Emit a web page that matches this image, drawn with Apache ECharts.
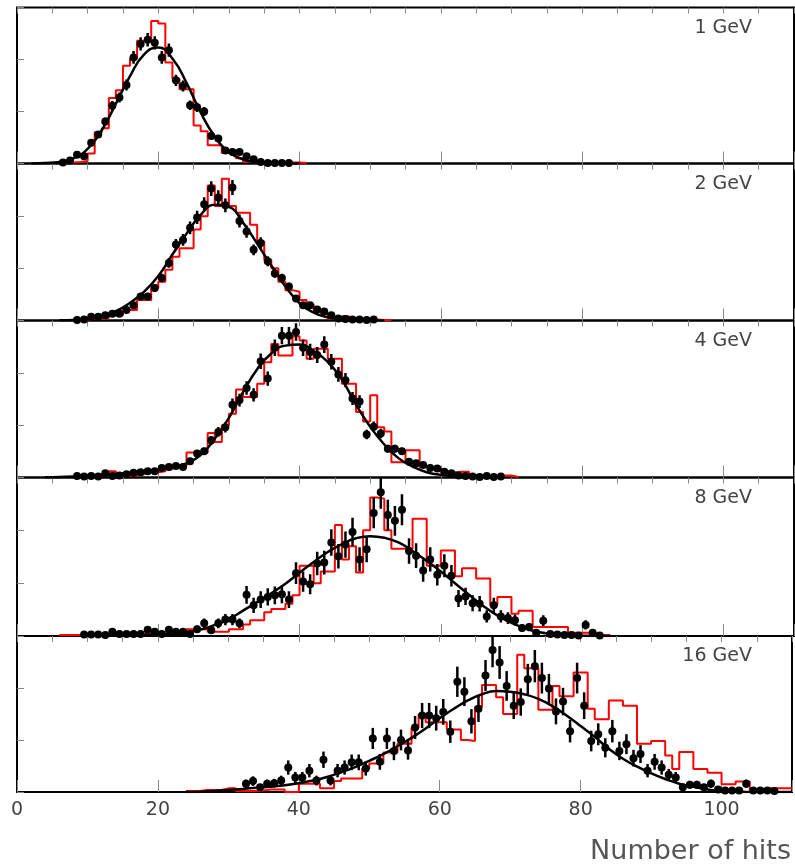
<!DOCTYPE html>
<html>
<head>
<meta charset="utf-8">
<script src="https://cdn.jsdelivr.net/npm/echarts@6/dist/echarts.min.js"></script>
<style>
  html, body { margin: 0; padding: 0; background: #fff; }
  #chart { width: 795px; height: 867px; }
</style>
</head>
<body>
<div id="chart"></div>
<script>
// panel labels, top to bottom
const energies = ["1 GeV", "2 GeV", "4 GeV", "8 GeV", "16 GeV"];
const xTicks = [0, 20, 40, 60, 80, 100];
const xTitle = "Number of hits";

// red histograms (simulation): lower edge of first bin, then bin contents (1 hit wide)
const red1Start = 6;
const red1 = [0.01, 0.02, 0.03, 0.05, 0.19, 0.60, 0.68, 1.26, 1.41, 1.88, 2.02, 2.36, 2.36, 2.74, 2.69,
  1.94, 1.63, 1.43, 1.43, 0.73, 0.62, 0.35, 0.35, 0.20, 0.17, 0.10, 0.04, 0.02, 0.01, 0.01, 0.01, 0.01, 0.02, 0.02, 0.01];
const red2Start = 8;
const red2 = [0.01, 0.02, 0.03, 0.03, 0.05, 0.10, 0.10, 0.20, 0.20, 0.39, 0.39, 0.62, 0.74, 0.97, 1.22, 1.38,
  1.38, 1.74, 1.99, 2.58, 2.19, 2.71, 2.19, 2.06, 2.06, 1.83, 1.51, 1.16, 1.00, 0.74, 0.58, 0.55, 0.39, 0.30,
  0.20, 0.13, 0.04, 0.04, 0.08, 0.04, 0.03, 0.02, 0.02, 0.01, 0.01];
const red3Start = 8;
const red3 = [0.02, 0.02, 0.02, 0.03, 0.03, 0.12, 0.03, 0.03, 0.04, 0.06, 0.10, 0.10, 0.12, 0.16, 0.20, 0.22,
  0.48, 0.48, 0.48, 0.85, 0.68, 1.00, 1.22, 1.68, 1.54, 1.54, 1.79, 2.20, 2.55, 2.33, 2.33, 2.70, 2.62, 2.27,
  2.46, 2.46, 2.27, 2.27, 1.79, 1.79, 1.25, 1.07, 1.57, 0.96, 0.88, 0.29, 0.29, 0.52, 0.52, 0.20, 0.18, 0.18,
  0.10, 0.10, 0.11, 0.11, 0.05, 0.05, 0.03, 0.02, 0.04, 0.04, 0.01];
const red4Start = 6;
const red4 = [0.02, 0.02, 0.02, 0.02, 0.02, 0.02, 0.02, 0.02, 0.02, 0.02, 0.04, 0.04, 0.04, 0.04, 0.04, 0.04,
  0.04, 0.04, 0.13, 0.13, 0.13, 0.08, 0.08, 0.08, 0.13, 0.13, 0.22, 0.30, 0.30, 0.45, 0.51, 0.51, 0.61, 0.77,
  1.33, 1.33, 1.00, 1.22, 1.22, 2.10, 1.45, 1.70, 1.20, 2.00, 2.62, 2.60, 2.00, 1.65, 1.65, 1.65, 2.22, 2.22,
  1.33, 1.33, 1.62, 1.62, 1.13, 1.28, 1.28, 1.09, 1.09, 0.58, 0.74, 0.74, 0.42, 0.48, 0.48, 0.17, 0.17, 0.17,
  0.17, 0.17, 0.06, 0.06, 0.06, 0.06, 0.02, 0.02];
const red5Start = 24;
const red5 = [0.02, 0.02, 0.04, 0.04, 0.04, 0.07, 0.07, 0.02, 0.02, 0.02, 0.03, 0.05, 0.05, 0.05, 0.00, 0.00,
  0.16, 0.16, 0.16, 0.07, 0.07, 0.21, 0.26, 0.26, 0.26, 0.45, 0.55, 0.55, 0.76, 0.76, 0.93, 0.93, 1.24, 1.49,
  1.34, 1.34, 1.34, 1.20, 1.20, 1.00, 0.98, 1.64, 2.06, 2.06, 1.82, 1.50, 1.50, 2.64, 2.38, 2.38, 1.58, 1.58,
  2.04, 1.84, 1.84, 2.30, 2.30, 1.60, 1.40, 1.40, 1.76, 1.76, 1.66, 1.66, 0.93, 0.93, 0.98, 0.98, 0.70, 0.44,
  0.77, 0.77, 0.44, 0.44, 0.37, 0.37, 0.15, 0.15, 0.20, 0.20, 0.05, 0.05, 0.07, 0.07, 0.07, 0.07];

// black points (data): centre of first bin, then contents
const pts1Start = 6.5;
const pts1 = [0.02, 0.06, 0.17, 0.14, 0.40, 0.56, 0.81, 1.11, 1.27, 1.51, 2.04, 2.30, 2.38, 2.32, 2.04, 2.18,
  1.60, 1.49, 1.12, 1.08, 1.00, 0.53, 0.48, 0.25, 0.22, 0.22, 0.14, 0.08, 0.03, 0.01, 0.01, 0.01, 0.01];
const pts2Start = 8.5;
const pts2 = [0.01, 0.02, 0.07, 0.07, 0.10, 0.13, 0.13, 0.20, 0.29, 0.46, 0.46, 0.62, 0.81, 1.10, 1.45, 1.54,
  1.77, 1.97, 2.22, 2.52, 2.35, 2.20, 2.54, 1.90, 1.70, 1.35, 1.48, 1.13, 0.90, 0.81, 0.65, 0.42, 0.29, 0.29,
  0.21, 0.17, 0.10, 0.04, 0.03, 0.02, 0.02, 0.01, 0.02];
const pts3Start = 8.5;
const pts3 = [0.03, 0.02, 0.03, 0.02, 0.08, 0.03, 0.04, 0.06, 0.09, 0.10, 0.12, 0.12, 0.18, 0.20, 0.22, 0.20,
  0.31, 0.46, 0.50, 0.71, 0.87, 0.96, 1.39, 1.48, 1.71, 1.58, 2.22, 1.89, 2.48, 2.71, 2.71, 2.78, 2.48, 2.40,
  2.34, 2.54, 2.21, 1.97, 1.86, 1.51, 1.45, 0.82, 0.97, 0.84, 0.55, 0.55, 0.50, 0.30, 0.27, 0.24, 0.18, 0.17,
  0.11, 0.08, 0.04, 0.03, 0.02, 0.01, 0.03, 0.01, 0.02];
const pts4Start = 9.5;
const pts4 = [0.03, 0.03, 0.03, 0.02, 0.08, 0.04, 0.04, 0.04, 0.04, 0.12, 0.08, 0.04, 0.12, 0.08, 0.08, 0.04,
  0.13, 0.24, 0.11, 0.24, 0.31, 0.31, 0.24, 0.78, 0.58, 0.69, 0.74, 0.77, 0.79, 0.69, 1.19, 1.03, 0.98, 1.37,
  1.39, 1.77, 1.51, 1.73, 1.97, 1.45, 1.64, 2.33, 2.72, 2.29, 2.18, 2.39, 1.61, 1.52, 1.24, 1.45, 1.16, 1.33,
  1.14, 0.71, 0.75, 0.62, 0.61, 0.37, 0.58, 0.37, 0.34, 0.30, 0.15, 0.17, 0.06, 0.29, 0.04, 0.03, 0.02, 0.02,
  0.01, 0.21, 0.06, 0.01];
const pts5Start = 32.5;
const pts5 = [0.16, 0.21, 0.09, 0.16, 0.17, 0.22, 0.47, 0.28, 0.28, 0.41, 0.22, 0.62, 0.22, 0.41, 0.47, 0.57,
  0.57, 0.45, 1.03, 0.58, 1.03, 0.79, 1.00, 0.80, 1.24, 1.47, 1.47, 1.42, 1.54, 1.16, 2.12, 1.93, 1.36, 1.60,
  2.24, 2.73, 2.49, 2.04, 1.66, 1.73, 2.17, 2.42, 2.19, 1.99, 1.55, 1.74, 1.17, 2.19, 1.66, 0.98, 1.11, 0.85,
  1.17, 0.79, 0.92, 0.65, 0.73, 0.41, 0.58, 0.47, 0.33, 0.28, 0.09, 0.14, 0.14, 0.09, 0.16, 0.05, 0.03, 0.03,
  0.03, 0.16, 0.03, 0.03, 0.03, 0.02];

// fitted curves, every 2 hits starting at fitNStart
const fit1Start = 2;
const fit1 = [0, 0.01, 0.03, 0.10, 0.28, 0.64, 1.15, 1.68, 2.10, 2.23, 2.02, 1.55, 0.98, 0.52, 0.22, 0.08,
  0.025, 0.007, 0.002, 0];
const fit2Start = 6;
const fit2 = [0.005, 0.01, 0.04, 0.09, 0.18, 0.34, 0.55, 0.85, 1.26, 1.66, 2.02, 2.21, 2.17, 1.87, 1.47, 1.05,
  0.65, 0.33, 0.15, 0.06, 0.02, 0.01, 0, 0];
const fit3Start = 4;
const fit3 = [0.005, 0.01, 0.02, 0.035, 0.05, 0.07, 0.09, 0.12, 0.155, 0.20, 0.27, 0.43, 0.74, 1.14, 1.63, 2.07,
  2.37, 2.52, 2.54, 2.42, 2.21, 1.87, 1.39, 0.97, 0.63, 0.37, 0.21, 0.10, 0.05, 0.02, 0.005, 0, 0];
const fit4Start = 10;
const fit4 = [0, 0.005, 0.01, 0.015, 0.02, 0.03, 0.04, 0.07, 0.12, 0.21, 0.32, 0.48, 0.64, 0.81, 0.99, 1.20,
  1.40, 1.59, 1.74, 1.85, 1.89, 1.86, 1.77, 1.61, 1.42, 1.22, 1.00, 0.78, 0.57, 0.39, 0.25, 0.14, 0.07, 0.035,
  0.015, 0.005, 0, 0];
const fit5Start = 24;
const fit5 = [0, 0.005, 0.02, 0.04, 0.06, 0.08, 0.10, 0.13, 0.17, 0.22, 0.29, 0.38, 0.48, 0.60, 0.73, 0.88,
  1.04, 1.22, 1.42, 1.60, 1.76, 1.88, 1.94, 1.93, 1.88, 1.79, 1.65, 1.47, 1.27, 1.06, 0.83, 0.64, 0.49, 0.36,
  0.25, 0.16, 0.10, 0.05, 0.02, 0.01, 0, 0, 0, 0];

// error bar half length = errScale * sqrt(value)
const errScale = [0.085, 0.09, 0.1, 0.19, 0.2];

const reds = [[red1Start, red1], [red2Start, red2], [red3Start, red3], [red4Start, red4], [red5Start, red5]];
const pts = [[pts1Start, pts1], [pts2Start, pts2], [pts3Start, pts3], [pts4Start, pts4], [pts5Start, pts5]];
const fits = [[fit1Start, fit1], [fit2Start, fit2], [fit3Start, fit3], [fit4Start, fit4], [fit5Start, fit5]];

const tops = [7.5, 163.5, 320.5, 477.5, 636];
const heights = [156, 157, 157, 158.5, 156];
const font = "DejaVu Sans";

const chart = echarts.init(document.getElementById("chart"), null, { renderer: "canvas" });

const grids = [], xAxes = [], yAxes = [], series = [], titles = [];
tops.forEach((top, i) => {
  grids.push({ left: 17, right: 1, top: top, height: heights[i], show: true,
    borderColor: "#000", borderWidth: 2, backgroundColor: "transparent" });
  const last = i === tops.length - 1;
  // major ticks every 20 with labels on the bottom panel only
  xAxes.push({
    gridIndex: i, type: "value", min: 0, max: 110, interval: 20,
    axisLine: { show: false }, splitLine: { show: false },
    axisTick: { inside: true, length: 12, lineStyle: { color: "#888", width: 1 } },
    axisLabel: {
      show: last, margin: 9, fontSize: 19, color: "#444", fontFamily: font,
      formatter: (v) => (xTicks.includes(v) ? String(v) : "")
    }
  });
  // minor ticks every 5
  xAxes.push({
    gridIndex: i, type: "value", min: 0, max: 110, interval: 5,
    axisLine: { show: false }, splitLine: { show: false }, axisLabel: { show: false },
    axisTick: { inside: true, length: 6, lineStyle: { color: "#888", width: 1 } }
  });
  yAxes.push({
    gridIndex: i, type: "value", min: 0, max: 3, interval: 1,
    axisLine: { show: false }, splitLine: { show: false }, axisLabel: { show: false },
    axisTick: { inside: true, length: 7, lineStyle: { color: "#888", width: 1 } }
  });

  const xi = i * 2;
  const [rs, rv] = reds[i];
  const redData = rv.map((v, j) => [rs + j, v]);
  redData.push([rs + rv.length, rv[rv.length - 1]]);
  series.push({
    type: "line", xAxisIndex: xi, yAxisIndex: i, data: redData, step: "end",
    symbol: "none", z: 2, lineStyle: { color: "#ff0000", width: 2 }
  });

  const [fs, fv] = fits[i];
  series.push({
    type: "line", xAxisIndex: xi, yAxisIndex: i, data: fv.map((v, j) => [fs + 2 * j, v]),
    smooth: 0.5, symbol: "none", z: 3,
    lineStyle: { color: "#000", width: 2.5 }
  });

  const [ps, pv] = pts[i];
  const pData = pv.map((v, j) => [ps + j, v, errScale[i] * Math.sqrt(v)]);
  series.push({
    type: "custom", xAxisIndex: xi, yAxisIndex: i, data: pData, z: 4, clip: true,
    renderItem: (params, api) => {
      const x = api.value(0), y = api.value(1), e = api.value(2);
      const a = api.coord([x, y - e]);
      const b = api.coord([x, y + e]);
      return { type: "line", shape: { x1: a[0], y1: a[1], x2: b[0], y2: b[1] },
        style: { stroke: "#000", lineWidth: 2.5 } };
    }
  });
  series.push({
    type: "scatter", xAxisIndex: xi, yAxisIndex: i, data: pData.map((d) => [d[0], d[1]]),
    symbol: "circle", symbolSize: 8, z: 5, itemStyle: { color: "#000", opacity: 1 }
  });

  titles.push({
    text: energies[i], right: 43, top: top + 11, padding: 0,
    textStyle: { fontSize: 19, fontWeight: "normal", color: "#444", fontFamily: font }
  });
});

titles.push({
  text: xTitle, right: 4, top: 838, padding: 0,
  textStyle: { fontSize: 27, fontWeight: "normal", color: "#555", fontFamily: font }
});

chart.setOption({
  animation: false,
  backgroundColor: "#fff",
  title: titles,
  grid: grids,
  xAxis: xAxes,
  yAxis: yAxes,
  series: series
});
</script>
</body>
</html>
